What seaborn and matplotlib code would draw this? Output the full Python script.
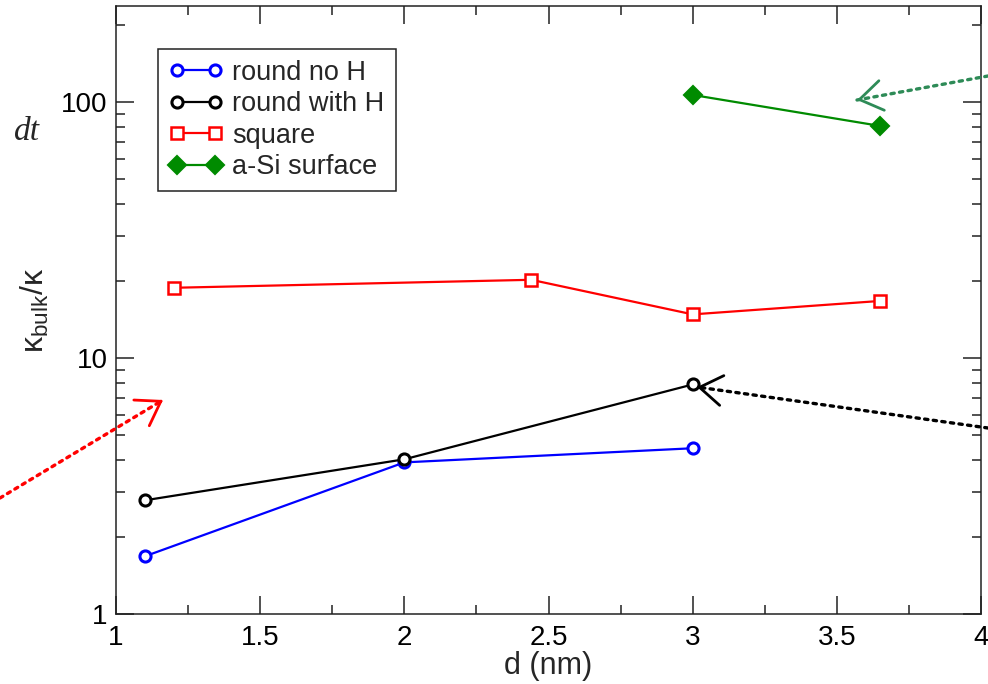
import matplotlib
matplotlib.use("Agg")
import matplotlib.pyplot as plt
import seaborn as sns
import pandas as pd
from matplotlib.ticker import MultipleLocator, LogLocator, NullFormatter, FixedLocator

# ---- data ----
d_round_noH = [1.1, 2.0, 3.0]
k_round_noH = [1.68, 3.91, 4.44]

d_round_H = [1.1, 2.0, 3.0]
k_round_H = [2.78, 4.02, 7.88]

d_square = [1.2, 2.44, 3.0, 3.65]
k_square = [18.8, 20.2, 14.8, 16.7]

d_asi = [3.0, 3.65]
k_asi = [106.5, 80.6]

labels = ["round no H", "round with H", "square", "a-Si surface"]
x_ticks = [1, 1.5, 2, 2.5, 3, 3.5, 4]
x_tick_labels = ["1", "1.5", "2", "2.5", "3", "3.5", "4"]
y_ticks = [1, 10, 100]
y_tick_labels = ["1", "10", "100"]

sns.set_theme(style="ticks")
plt.rcParams["font.family"] = ["Liberation Sans", "DejaVu Sans"]
plt.rcParams["mathtext.fontset"] = "custom"
plt.rcParams["mathtext.rm"] = "Liberation Sans"
plt.rcParams["mathtext.it"] = "Liberation Sans"

fig = plt.figure(figsize=(9.88, 6.84), dpi=100)
ax = fig.add_axes([116 / 988, 1 - 614 / 684, (981 - 116) / 988, (614 - 6) / 684])

series = [
    (d_round_noH, k_round_noH, labels[0], dict(color="#0000ff", marker="o", ms=8, mfc="white", mew=2.2)),
    (d_round_H, k_round_H, labels[1], dict(color="#000000", marker="o", ms=8, mfc="white", mew=2.2)),
    (d_square, k_square, labels[2], dict(color="#ff0000", marker="s", ms=8.5, mfc="white", mew=1.8)),
    (d_asi, k_asi, labels[3], dict(color="#008b00", marker="D", ms=9, mfc="#008b00", mew=1.5)),
]
for xs, ys, lab, kw in series:
    df = pd.DataFrame({"d": xs, "k": ys})
    sns.lineplot(data=df, x="d", y="k", ax=ax, label=lab, lw=1.6,
                 mec=kw["color"], **kw)

ax.set_yscale("log")
ax.set_xlim(1, 4)
ax.set_ylim(1, 237)

ax.xaxis.set_major_locator(FixedLocator(x_ticks))
ax.set_xticklabels(x_tick_labels)
ax.xaxis.set_minor_locator(MultipleLocator(0.25))
ax.yaxis.set_major_locator(FixedLocator(y_ticks))
ax.set_yticklabels(y_tick_labels)
ax.yaxis.set_minor_locator(LogLocator(base=10, subs=[2, 3, 4, 5, 6, 7, 8, 9]))
ax.yaxis.set_minor_formatter(NullFormatter())

ax.tick_params(which="both", direction="in", top=True, right=True,
               colors="#222222", labelcolor="black", width=1.1, labelsize=20)
ax.tick_params(axis="x", pad=8)
ax.tick_params(axis="y", pad=6)
ax.tick_params(which="major", length=13)
ax.tick_params(which="minor", length=6.5)
for s in ax.spines.values():
    s.set_linewidth(1.1)
    s.set_color("#222222")

ax.set_xlabel("d (nm)", fontsize=22, labelpad=0)
ax.set_ylabel(r"$\mathrm{\kappa_{bulk}/\kappa}$", fontsize=23)
ax.yaxis.set_label_coords(-0.075, 0.5)

leg = ax.legend(loc="upper left", bbox_to_anchor=(42 / 865, 1 - 43 / 608), numpoints=2,
                fontsize=19.5, frameon=True, fancybox=False, framealpha=1,
                edgecolor="#222222", handlelength=2.0, handletextpad=0.35,
                labelspacing=0.2, borderpad=0.4, borderaxespad=0)
leg.get_frame().set_linewidth(1.1)

# ---- annotation arrows (figure pixel coordinates, origin bottom-left) ----
H = 684
arrows = [
    ((0, H - 498), (163, H - 400), "#ff0000"),
    ((988, H - 428), (697, H - 387), "#000000"),
    ((988, H - 76), (857, H - 100), "#2e8b57"),
]
for (tx, ty), (hx, hy), col in arrows:
    ax.annotate("", xy=(hx, hy), xycoords="figure pixels",
                xytext=(tx, ty), textcoords="figure pixels",
                annotation_clip=False,
                arrowprops=dict(arrowstyle="-", linestyle=(0, (1, 1.6)), lw=2.4,
                                color=col, shrinkA=0, shrinkB=0))
    # solid open head
    vx, vy = hx - tx, hy - ty
    n = (vx ** 2 + vy ** 2) ** 0.5
    sx, sy = hx - vx / n * 3, hy - vy / n * 3
    ax.annotate("", xy=(hx, hy), xycoords="figure pixels",
                xytext=(sx, sy), textcoords="figure pixels",
                annotation_clip=False,
                arrowprops=dict(arrowstyle="->,head_length=0.6,head_width=0.4",
                                lw=2.0, color=col, mutation_scale=27,
                                shrinkA=0, shrinkB=0))

fig.text(40 / 988, 1 - 140 / 684, "dt", fontsize=24, ha="right", va="baseline",
         family=["Liberation Serif", "DejaVu Serif"], style="italic")

fig.savefig("out.png", dpi=100)
